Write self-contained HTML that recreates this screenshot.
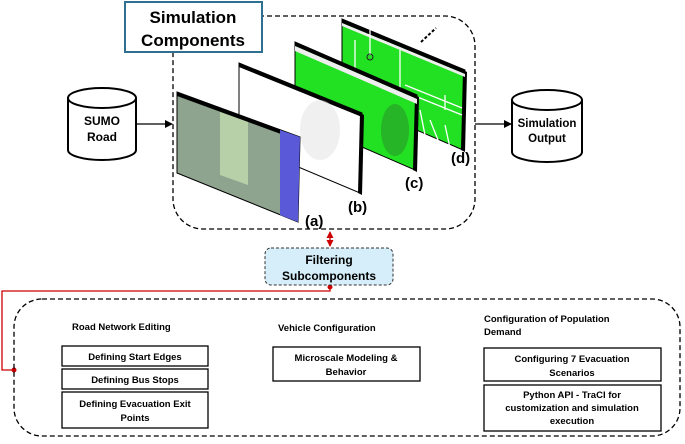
<!DOCTYPE html>
<html><head><meta charset="utf-8"><style>
body{margin:0;background:#fff}
svg text{font-family:"Liberation Sans",sans-serif;font-weight:bold}
</style></head><body>
<svg width="685" height="439" viewBox="0 0 685 439" xmlns="http://www.w3.org/2000/svg">
<defs>
<marker id="ar" markerWidth="8" markerHeight="8" refX="7" refY="4" orient="auto" markerUnits="userSpaceOnUse"><path d="M0,0 L8,4 L0,8 z" fill="#000"/></marker>
<marker id="rr" markerWidth="7" markerHeight="7" refX="6" refY="3.5" orient="auto-start-reverse" markerUnits="userSpaceOnUse"><path d="M0,0 L7,3.5 L0,7 z" fill="#c00"/></marker>
</defs>
<rect x="173" y="16" width="302" height="213" rx="30" fill="none" stroke="#000" stroke-width="1.3" stroke-dasharray="5,3"/>
<rect x="125" y="2" width="137" height="50" fill="#fff" stroke="#2f6f8f" stroke-width="2"/>
<text x="193" y="23" font-size="17" text-anchor="middle">Simulation</text>
<text x="193" y="46" font-size="17" text-anchor="middle">Components</text>
<path d="M68,98 L68,150 A34,10 0 0 0 136,150 L136,98" fill="#fff" stroke="#000" stroke-width="2"/>
<ellipse cx="102" cy="98" rx="34" ry="10" fill="#fff" stroke="#000" stroke-width="2"/>
<text x="102" y="125" font-size="12" text-anchor="middle">SUMO</text>
<text x="102" y="141" font-size="12" text-anchor="middle">Road</text>
<line x1="136" y1="124" x2="172" y2="124" stroke="#000" stroke-width="1.2" marker-end="url(#ar)"/>
<path d="M512,100 L512,152 A35,10 0 0 0 582,152 L582,100" fill="#fff" stroke="#000" stroke-width="2"/>
<ellipse cx="547" cy="100" rx="35" ry="10" fill="#fff" stroke="#000" stroke-width="2"/>
<text x="547" y="127" font-size="11.5" text-anchor="middle">Simulation</text>
<text x="547" y="142" font-size="11.5" text-anchor="middle">Output</text>
<line x1="475" y1="124" x2="511" y2="124" stroke="#000" stroke-width="1.2" marker-end="url(#ar)"/>
<!-- panel d -->
<polygon points="342,19 465,70 463,150 342,98" fill="#22e022" stroke="#000" stroke-width="1"/>
<polygon points="342,19 465,70 465,74 342,23" fill="#000"/>
<polygon points="463,70 467,72 465,152 461,150" fill="#000"/>
<polygon points="342,23 465,74 465,77 342,26" fill="#eee"/>
<path d="M370,30 L370,55 M400,50 L400,120 M405,85 L462,108 M405,92 L462,115 M430,120 L440,145 M445,125 L450,148 M420,110 L425,135 M355,40 L355,90 M445,95 L445,110" stroke="#fff" stroke-width="1.3" fill="none"/>
<circle cx="370" cy="57" r="3" fill="none" stroke="#222"/>
<!-- panel c -->
<polygon points="295,42 417,95 415,170 295,118" fill="#22e022" stroke="#000" stroke-width="1"/>
<polygon points="295,42 417,95 417,99 295,46" fill="#000"/>
<polygon points="415,95 419,97 417,172 413,170" fill="#000"/>
<polygon points="295,46 417,99 417,104 295,51" fill="#eee"/>
<ellipse cx="395" cy="130" rx="14" ry="26" fill="#2a8a2a" opacity="0.5"/>
<!-- panel b -->
<polygon points="239,63 362,113 360,193 239,142" fill="#fff" stroke="#000" stroke-width="1"/>
<polygon points="239,63 362,113 362,117 239,67" fill="#000"/>
<polygon points="360,113 364,115 362,195 358,193" fill="#000"/>
<ellipse cx="320" cy="130" rx="20" ry="30" fill="#ddd" opacity="0.45"/>
<!-- panel a -->
<polygon points="177,92 300,137 298,222 177,173" fill="#8fa48e" stroke="#000" stroke-width="1"/>
<polygon points="177,92 300,137 300,141 177,96" fill="#000"/>
<polygon points="280,130 300,137 298,222 280,215" fill="#5a5ad8"/>
<polygon points="220,112 248,122 248,185 220,175" fill="#b8d0a8"/>
<text x="305" y="226" font-size="15">(a)</text>
<text x="348" y="212" font-size="15">(b)</text>
<text x="405" y="188" font-size="15">(c)</text>
<text x="451" y="163" font-size="15">(d)</text>
<line x1="421" y1="42" x2="436" y2="28" stroke="#000" stroke-width="2" stroke-dasharray="3,2"/>
<line x1="330" y1="232" x2="330" y2="246" stroke="#c00" stroke-width="1.3" marker-start="url(#rr)" marker-end="url(#rr)"/>
<polyline points="330,287 330,291 2,291 2,370 14,370" fill="none" stroke="#c00" stroke-width="1.3"/>
<circle cx="330" cy="287" r="2.5" fill="#c00"/>
<circle cx="14" cy="370" r="2.5" fill="#c00"/>
<rect x="265" y="248" width="128" height="37" rx="6" fill="#d5eef9" stroke="#333" stroke-width="1" stroke-dasharray="3,2"/>
<text x="329" y="264" font-size="12" text-anchor="middle">Filtering</text>
<text x="329" y="280" font-size="12" text-anchor="middle">Subcomponents</text>
<rect x="14" y="299" width="666" height="137" rx="28" fill="none" stroke="#000" stroke-width="1.3" stroke-dasharray="5,3"/>
<g font-size="9.5">
<text x="72" y="330">Road Network Editing</text>
<text x="278" y="331">Vehicle Configuration</text>
<text x="484" y="322">Configuration of Population</text>
<text x="484" y="335">Demand</text>
</g>
<g fill="#fff" stroke="#000" stroke-width="1.3">
<rect x="62" y="346" width="146" height="20"/>
<rect x="62" y="369" width="146" height="20"/>
<rect x="62" y="392" width="146" height="36"/>
<rect x="273" y="347" width="147" height="34"/>
<rect x="484" y="348" width="177" height="33"/>
<rect x="484" y="385" width="177" height="46"/>
</g>
<g font-size="9.5" text-anchor="middle">
<text x="135" y="360">Defining Start  Edges</text>
<text x="135" y="383">Defining Bus Stops</text>
<text x="135" y="407">Defining Evacuation Exit</text>
<text x="135" y="421">Points</text>
<text x="346" y="361">Microscale Modeling &amp;</text>
<text x="346" y="375">Behavior</text>
<text x="572" y="362">Configuring 7 Evacuation</text>
<text x="572" y="376">Scenarios</text>
<text x="572" y="398">Python API - TraCI for</text>
<text x="572" y="411">customization and simulation</text>
<text x="572" y="424">execution</text>
</g>
</svg>
</body></html>
